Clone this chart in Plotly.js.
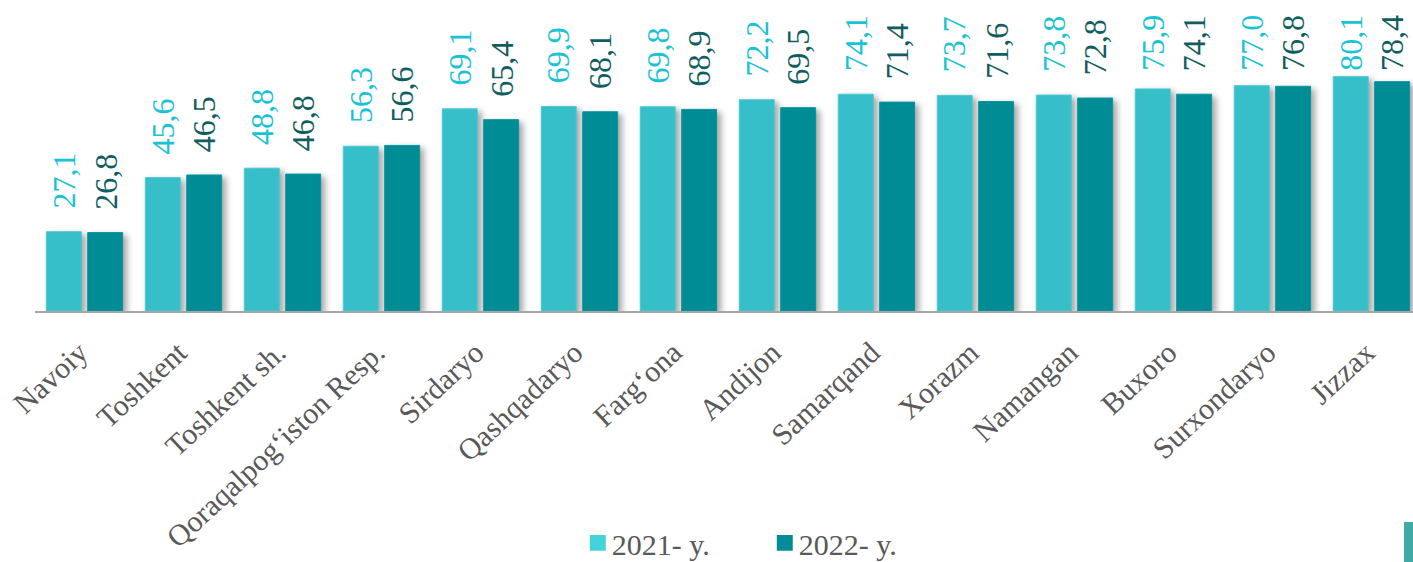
<!DOCTYPE html>
<html>
<head>
<meta charset="utf-8">
<script src="https://cdn.plot.ly/plotly-3.0.1.min.js"></script>
<style>
  html, body { margin: 0; padding: 0; background: #ffffff; }
  #chart { width: 1413px; height: 562px; }
  .barlayer .point path { filter: drop-shadow(4px 3px 3px rgba(0,0,0,0.35)); }
</style>
</head>
<body>
<div id="chart"></div>
<script>
// ---- data ----
const regions = ["Navoiy", "Toshkent", "Toshkent sh.", "Qoraqalpog\u2018iston Resp.", "Sirdaryo",
  "Qashqadaryo", "Farg\u2018ona", "Andijon", "Samarqand", "Xorazm", "Namangan", "Buxoro",
  "Surxondaryo", "Jizzax"];
const values2021 = [27.1, 45.6, 48.8, 56.3, 69.1, 69.9, 69.8, 72.2, 74.1, 73.7, 73.8, 75.9, 77.0, 80.1];
const values2022 = [26.8, 46.5, 46.8, 56.6, 65.4, 68.1, 68.9, 69.5, 71.4, 71.6, 72.8, 74.1, 76.8, 78.4];
const seriesNames = ["2021- y.", "2022- y."];

// ---- styling ----
const barColors = ["#36BEC9", "#008C95"];
const legendSwatch = ["#45D3DB", "#008C96"];
const labelColors = ["#19C3D3", "#105E60"];
const serif = "Liberation Serif";
const BARGAP = 0.164;
const GROUPGAP = 0.155;
const LABEL_CAP = 74.2; // labels kept inside the chart area, like the original
const slot = (1 - BARGAP) / 2;

const fmt = v => v.toFixed(1).replace('.', ',');

const traces = [values2021, values2022].map((vals, k) => ({
  type: 'bar',
  name: seriesNames[k],
  x: regions,
  y: vals,
  marker: { color: barColors[k], line: { color: k === 0 ? '#4CC9D2' : '#07969F', width: 1 } },
  hoverinfo: 'x+y'
}));

const annotations = [];
[values2021, values2022].forEach((vals, k) => {
  const off = (k === 0 ? -1 : 1) * slot / 2;
  vals.forEach((v, i) => {
    annotations.push({
      x: i + off, y: Math.min(v, LABEL_CAP), xref: 'x', yref: 'y',
      text: fmt(v), showarrow: false, textangle: -90,
      xanchor: 'center', yanchor: 'bottom', yshift: 21,
      font: { family: serif, size: 32, color: labelColors[k] }
    });
  });
});

const layout = {
  width: 1413, height: 562,
  margin: { l: 35, r: 0, t: 0, b: 251, autoexpand: false },
  paper_bgcolor: '#ffffff', plot_bgcolor: '#ffffff',
  barmode: 'group', bargap: BARGAP, bargroupgap: GROUPGAP,
  showlegend: true,
  legend: {
    orientation: 'h', xref: 'container', yref: 'container',
    x: 0.537, xanchor: 'center', y: 0.034, yanchor: 'middle',
    font: { family: serif, size: 30, color: '#595959' },
    entrywidth: 142, bgcolor: 'rgba(0,0,0,0)'
  },
  xaxis: {
    type: 'category', range: [-0.5, 13.42], fixedrange: true,
    showline: true, linecolor: '#A6A6A6', linewidth: 2,
    showgrid: false, zeroline: false, ticks: '', automargin: false,
    tickangle: -43, ticklabelstandoff: 10, ticklabelshift: -5,
    tickfont: { family: serif, size: 30, color: '#595959' }
  },
  yaxis: {
    range: [0, 106.3], visible: false, showgrid: false, zeroline: false, fixedrange: true
  },
  annotations: annotations,
  shapes: [{
    type: 'rect', xref: 'paper', yref: 'paper',
    x0: (1404 - 35) / 1378, x1: 1.01, y0: -251 / 311, y1: -(522 - 311) / 311,
    fillcolor: '#3FA9A5', line: { width: 0 }, layer: 'above'
  }]
};

Plotly.newPlot('chart', traces, layout, { displayModeBar: false, staticPlot: true }).then(gd => {
  const pts = gd.querySelectorAll('.legend .traces .legendpoints path');
  pts.forEach((p, k) => {
    const t = p.getAttribute('transform') || '';
    p.setAttribute('transform', t + ' translate(6,0) scale(1.33)');
    p.style.fill = legendSwatch[k];
    p.style.stroke = 'none';
  });
});
</script>
</body>
</html>
